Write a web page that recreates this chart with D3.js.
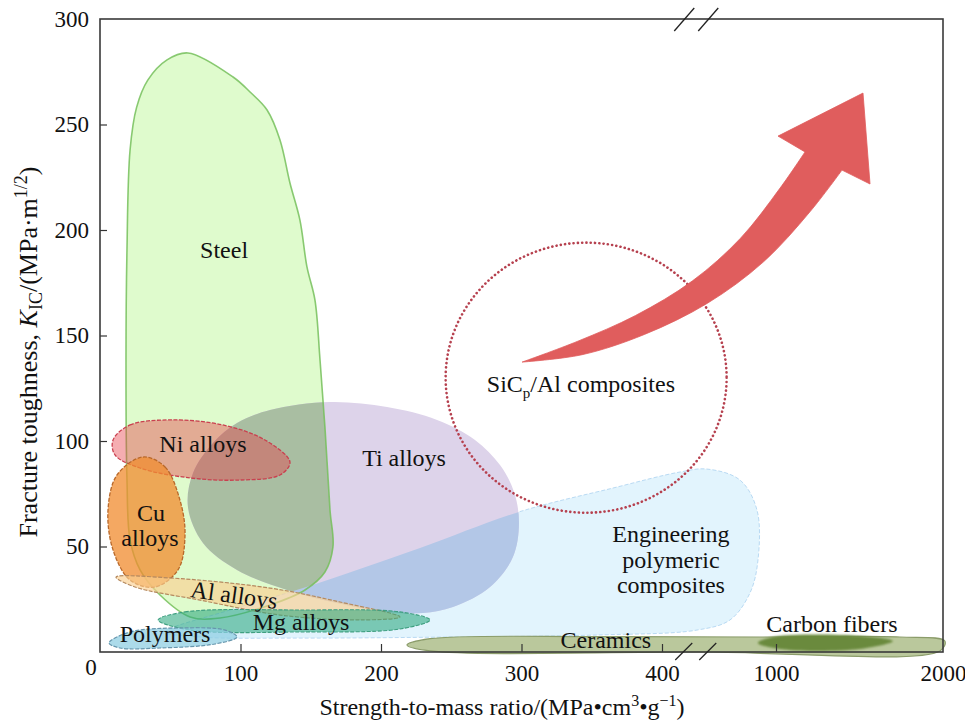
<!DOCTYPE html>
<html>
<head>
<meta charset="utf-8">
<script src="https://cdn.jsdelivr.net/npm/d3@7"></script>
<style>
  body { margin: 0; background: #fff; }
  svg { display: block; font-family: "Liberation Serif", "Times New Roman", serif; }
</style>
</head>
<body>
<svg id="chart" width="965" height="724"></svg>
<script>
// axis layout values (strength-to-mass ratio is broken between 400 and 1000)
const xBreaks = [0, 400, 1000, 2000];
const xTicks = [100, 200, 300, 400, 1000, 2000];
const yTicks = [50, 100, 150, 200, 250, 300];
const axisBreakAt = 575;

// material regions, [strength-to-mass ratio, K_IC]
const steelOutline = [[62.6,283.9],[94.7,272.5],[106.8,265.4],[118.9,256.9],[128.1,242.7],[135.2,222.3],[142.3,204.7],[147.3,182.5],[153,166.8],[156.6,138.4],[160.1,106.6],[163.7,67.3],[165.8,49.8],[160.1,37.9],[145.9,29.4],[121,22.3],[85.4,16.1],[64.1,16.6],[42.7,27],[28.5,38.9],[21.4,53.1],[19.2,81.5],[18.5,138.4],[19.2,190.5],[21.4,237.9],[26,258],[34,271],[47.7,280.6]];
const engCompositeOutline = [[46.3,9.5],[92.5,19.9],[144.5,30.3],[227.8,49.3],[298.2,66.4],[365.1,77.7],[494.7,85.3],[636.7,86.7],[810.3,81.5],[899.8,67.3],[905.1,43.6],[863,28],[757.9,15.2],[584.2,10.4],[355.9,8.1],[249.1,7.1],[142.3,6.6],[71.2,7.1]];
const tiOutline = [[163.7,118.5],[204.3,116.1],[239.9,110],[266.9,100.5],[284.7,88.6],[294.7,75.8],[298.2,61.1],[293.9,45],[277.6,30.8],[251.2,21.3],[229.9,18.5],[204.3,19],[168.7,23.2],[133.1,29.4],[97.5,38.9],[73.3,51.7],[62.6,68.7],[66.2,84.8],[80.4,99.1],[97.5,108.5],[121,114.7]];
const niOutline = [[9.3,100.5],[21.4,107.6],[49.8,110],[87.5,107.6],[117.4,100.5],[135.2,90],[128.1,83.9],[99.6,81.5],[64.1,82.5],[28.5,87.2],[10.7,93.4]];
const cuOutline = [[30.6,92.4],[46.3,87.7],[56.9,72],[60.5,55.5],[55.5,38.9],[39.1,30.8],[21.4,34.1],[9.3,48.3],[5.7,67.3],[12.1,83.9]];
const alOutline = [[11.4,35.5],[49.8,35.1],[121,30.3],[170.8,23.7],[213.5,16.6],[185.1,15.2],[128.1,17.5],[71.2,24.6],[24.9,30.8]];
const mgOutline = [[41.3,15.2],[60.5,19],[142.3,19.9],[213.5,19],[234.9,15.2],[213.5,10.9],[142.3,9.5],[64.1,10.4]];
const polymerOutline = [[6.4,4.3],[21.4,9.5],[56.9,11.4],[89,10.4],[97.5,7.1],[81.9,3.8],[42.7,1.9],[14.2,1.9]];
const ceramicOutline = [[218.5,3.3],[234.9,6.3],[355.9,7.3],[915.8,7.1],[1741.6,7.1],[2011,5.2],[1982,0.5],[600,0],[234.9,0.5]];
const carbonFiberOutline = [[905,4.3],[1000,7.3],[1503,7.6],[1700,5.2],[1503,1.4],[1050,1.2]];

// SiCp/Al composites target zone: centre and half-extents
const sicpCenter = [346, 130];
const sicpHalf = [100, 64];

// trend arrow outline
const arrowUpper = [[300.4,137.4],[340.1,147.3],[381.2,159.5],[560.5,175.9],[813.1,196.1],[1024.6,219.9],[1173.7,237]];
const arrowHead = [[1012,244.5],[1521,264.9],[1563,221.8],[1395.2,228.4]];
const arrowLower = [[1395.2,228.4],[1203,208.6],[934.2,184.9],[639.5,165.3],[387.5,150.5],[343.1,140.9],[300.4,137.4]];

const regionLabels = [
  { text: 'Steel', at: [88.3, 186.7] },
  { text: 'Ni alloys', at: [73.3, 94.8] },
  { text: 'Ti alloys', at: [216.4, 88.2] },
  { text: 'Cu', at: [36.3, 62.1] },
  { text: 'alloys', at: [35.6, 50.2] },
  { text: 'Al alloys', at: [94.7, 23.2], angle: 8 },
  { text: 'Mg alloys', at: [143.1, 10.4] },
  { text: 'Polymers', at: [46.3, 4.7] },
  { text: 'Engineering', at: [447, 52.1] },
  { text: 'polymeric', at: [447, 39.8] },
  { text: 'composites', at: [447, 28] },
  { text: 'Ceramics', at: [360, 1.9] },
  { text: 'Carbon fibers', at: [1335, 9.5] },
];

const svg = d3.select('#chart');
const plotLeft = 100, plotRight = 943, plotTop = 19, plotBottom = 652;
const serif = '"Liberation Serif", "Times New Roman", serif';

const x = d3.scaleLinear().domain(xBreaks).range([plotLeft, 662, 776, plotRight]);
const y = d3.scaleLinear().domain([0, 300]).range([plotBottom, plotTop]);

const closed = d3.line()
  .x(d => x(d[0]))
  .y(d => y(d[1]))
  .curve(d3.curveCatmullRomClosed.alpha(0.5));
const open = d3.line()
  .x(d => x(d[0]))
  .y(d => y(d[1]))
  .curve(d3.curveCatmullRom.alpha(0.5));

const defs = svg.append('defs');
defs.append('clipPath').attr('id', 'clip-steel').append('path').attr('d', closed(steelOutline));
defs.append('clipPath').attr('id', 'clip-eng').append('path').attr('d', closed(engCompositeOutline));
defs.append('filter').attr('id', 'soft')
  .append('feGaussianBlur').attr('stdDeviation', 1.1);
defs.append('filter').attr('id', 'soft1')
  .append('feGaussianBlur').attr('stdDeviation', 0.6);

const g = svg.append('g');

// Steel
g.append('path').attr('d', closed(steelOutline)).attr('fill', '#dffbcd');

// Engineering polymeric composites
g.append('path').attr('d', closed(engCompositeOutline))
  .attr('fill', '#e2f4fd')
  .attr('stroke', '#b9daf3')
  .attr('stroke-width', 1)
  .attr('stroke-dasharray', '4 2');

// Ti alloys, with its overlaps
g.append('path').attr('d', closed(tiOutline)).attr('fill', '#ddd3ea');
g.append('path').attr('d', closed(tiOutline)).attr('fill', '#a9bea2').attr('clip-path', 'url(#clip-steel)');
g.append('path').attr('d', closed(tiOutline)).attr('fill', '#b3c7e7').attr('clip-path', 'url(#clip-eng)');

// steel edge stays visible through Ti
g.append('path').attr('d', closed(steelOutline))
  .attr('fill', 'none')
  .attr('stroke', '#76bf5c')
  .attr('stroke-width', 1.6)
  .attr('opacity', 0.85);

// Ni alloys
g.append('path').attr('d', closed(niOutline))
  .attr('fill', 'rgba(230,60,70,0.42)')
  .attr('stroke', '#c9404f')
  .attr('stroke-width', 1.3)
  .attr('stroke-dasharray', '4 1.5');

// Cu alloys
g.append('path').attr('d', closed(cuOutline))
  .attr('fill', 'rgba(241,140,48,0.76)')
  .attr('stroke', '#b8682a')
  .attr('stroke-width', 1.3)
  .attr('stroke-dasharray', '4 1.5');

// Al alloys
g.append('path').attr('d', closed(alOutline))
  .attr('fill', 'rgba(250,208,145,0.66)')
  .attr('stroke', '#b58a60')
  .attr('stroke-width', 1.2)
  .attr('stroke-dasharray', '4 1.5');

// Mg alloys
g.append('path').attr('d', closed(mgOutline))
  .attr('fill', 'rgba(45,168,128,0.58)')
  .attr('stroke', '#3f9f80')
  .attr('stroke-width', 1.1)
  .attr('stroke-dasharray', '4 1.5');

// Polymers
g.append('path').attr('d', closed(polymerOutline))
  .attr('fill', 'rgba(140,205,226,0.72)')
  .attr('stroke', '#6796ad')
  .attr('stroke-width', 1.2)
  .attr('stroke-dasharray', '4 1.5');

// Ceramics band and carbon fibres
g.append('path').attr('d', closed(ceramicOutline))
  .attr('fill', '#bac89c')
  .attr('stroke', '#8b9c6a')
  .attr('stroke-width', 1.2)
  .attr('filter', 'url(#soft1)');
g.append('path').attr('d', closed(carbonFiberOutline))
  .attr('fill', '#6a8a3e')
  .attr('filter', 'url(#soft)');

// SiCp/Al target zone (half-extent measured on the unbroken side)
g.append('ellipse')
  .attr('cx', x(sicpCenter[0]))
  .attr('cy', y(sicpCenter[1]))
  .attr('rx', x(sicpCenter[0]) - x(sicpCenter[0] - sicpHalf[0]))
  .attr('ry', y(sicpCenter[1] - sicpHalf[1]) - y(sicpCenter[1]))
  .attr('fill', 'none')
  .attr('stroke', '#b6414f')
  .attr('stroke-width', 2.6)
  .attr('stroke-linecap', 'round')
  .attr('stroke-dasharray', '0.1 4.2');

// trend arrow
const headPath = arrowHead.map(d => `L${x(d[0])},${y(d[1])}`).join('');
const arrowPath = open(arrowUpper) + headPath + open(arrowLower).replace(/^M/, 'L') + 'Z';
g.append('path').attr('d', arrowPath)
  .attr('fill', '#e05d5d')
  .attr('stroke', '#e05d5d')
  .attr('stroke-width', 0.8)
  .attr('stroke-linejoin', 'round');

// region labels
g.append('g')
  .selectAll('text')
  .data(regionLabels)
  .join('text')
  .attr('transform', d => `translate(${x(d.at[0])},${y(d.at[1])}) rotate(${d.angle || 0})`)
  .attr('text-anchor', 'middle')
  .attr('font-family', serif)
  .attr('font-size', 24)
  .attr('fill', '#111')
  .text(d => d.text);

const sicpLabel = g.append('text')
  .attr('x', x(342.3))
  .attr('y', y(123.2))
  .attr('text-anchor', 'middle')
  .attr('font-family', serif)
  .attr('font-size', 24)
  .attr('fill', '#111');
sicpLabel.append('tspan').text('SiC');
sicpLabel.append('tspan').attr('font-size', 15).attr('dy', 6).text('p');
sicpLabel.append('tspan').attr('dy', -6).text('/Al composites');

// axes
const xAxis = svg.append('g')
  .attr('transform', `translate(0,${plotBottom})`)
  .call(d3.axisBottom(x).tickValues(xTicks).tickSize(-8).tickPadding(13).tickFormat(d3.format('d')));
const yAxis = svg.append('g')
  .attr('transform', `translate(${plotLeft},0)`)
  .call(d3.axisLeft(y).tickValues(yTicks).tickSize(-7).tickPadding(11).tickFormat(d3.format('d')));

[xAxis, yAxis].forEach(a => {
  a.attr('font-family', serif);
  a.select('.domain').remove();
  a.selectAll('line').attr('stroke', '#333').attr('stroke-width', 1.2);
  a.selectAll('text')
    .attr('font-family', serif)
    .attr('font-size', 23)
    .attr('fill', '#111');
});
xAxis.selectAll('.tick').filter(d => d === 2000).select('line').remove();
yAxis.selectAll('.tick').filter(d => d === 300).select('line').remove();

// frame
svg.append('rect')
  .attr('x', plotLeft).attr('y', plotTop)
  .attr('width', plotRight - plotLeft).attr('height', plotBottom - plotTop)
  .attr('fill', 'none')
  .attr('stroke', '#3a3a3a')
  .attr('stroke-width', 1.6);

// origin label
svg.append('text')
  .attr('x', x(0) - 9)
  .attr('y', y(0) + 23)
  .attr('text-anchor', 'middle')
  .attr('font-family', serif)
  .attr('font-size', 23)
  .attr('fill', '#111')
  .text('0');

// axis break marks
const bx = x(axisBreakAt);
[-11, 13].forEach(off => {
  svg.append('line')
    .attr('x1', bx + off - 10).attr('y1', plotTop + 12)
    .attr('x2', bx + off + 10).attr('y2', plotTop - 11)
    .attr('stroke', '#222').attr('stroke-width', 1.3);
  svg.append('line')
    .attr('x1', bx + off - 9).attr('y1', plotBottom + 8)
    .attr('x2', bx + off + 8).attr('y2', plotBottom - 9)
    .attr('stroke', '#222').attr('stroke-width', 1.3);
});

// axis titles
const xTitle = svg.append('text')
  .attr('x', 502)
  .attr('y', 715)
  .attr('text-anchor', 'middle')
  .attr('font-family', serif)
  .attr('font-size', 24)
  .attr('fill', '#111');
xTitle.append('tspan').text('Strength-to-mass ratio/(MPa\u2022cm');
xTitle.append('tspan').attr('font-size', 16).attr('dy', -9).text('3');
xTitle.append('tspan').attr('dy', 9).text('\u2022g');
xTitle.append('tspan').attr('font-size', 16).attr('dy', -9).text('\u22121');
xTitle.append('tspan').attr('dy', 9).text(')');

const yTitle = svg.append('text')
  .attr('transform', 'translate(37,352) rotate(-90)')
  .attr('text-anchor', 'middle')
  .attr('font-family', serif)
  .attr('font-size', 26)
  .attr('fill', '#111');
yTitle.append('tspan').text('Fracture toughness, ');
yTitle.append('tspan').attr('font-style', 'italic').text('K');
yTitle.append('tspan').attr('font-size', 18).attr('dy', 5).text('IC');
yTitle.append('tspan').attr('dy', -5).text('/(MPa\u00b7m');
yTitle.append('tspan').attr('font-size', 18).attr('dy', -10).text('1/2');
yTitle.append('tspan').attr('dy', 10).text(')');
</script>
</body>
</html>
